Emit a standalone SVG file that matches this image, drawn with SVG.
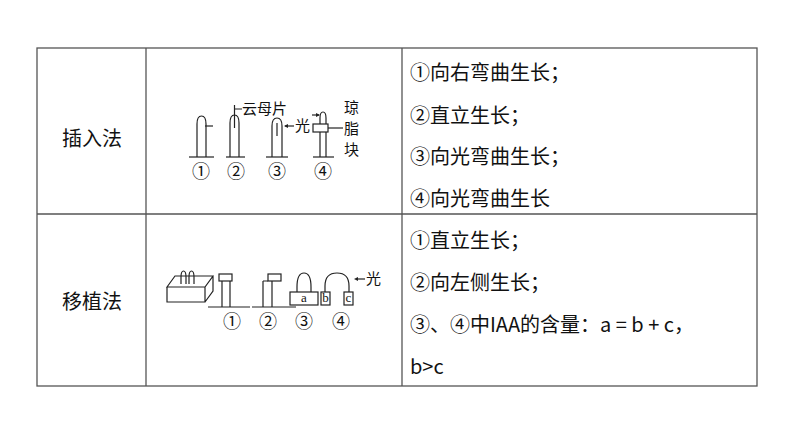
<svg xmlns="http://www.w3.org/2000/svg" width="794" height="447" viewBox="0 0 794 447">
<style>
.t{font-family:"Noto Sans CJK SC","Liberation Sans",sans-serif;font-size:20px;fill:#111}
.s{font-family:"Noto Sans CJK SC","Liberation Serif",serif;font-size:15px;fill:#111}
.m{font-family:"Liberation Serif",serif;font-size:13px;fill:#111;text-anchor:middle}
.n{font-family:"Noto Sans CJK SC",serif;font-size:18px;fill:#111;text-anchor:middle}
.l{fill:none;stroke:#222;stroke-width:1.2}
.g{fill:none;stroke:#555;stroke-width:1.3}
</style>
<rect width="794" height="447" fill="#fff"/>
<g id="table">
<rect x="37" y="48" width="720" height="338" class="g"/>
<line x1="146" y1="48" x2="146" y2="386" class="g"/>
<line x1="402" y1="48" x2="402" y2="386" class="g"/>
<line x1="37" y1="214" x2="757" y2="214" class="g"/>
</g>
<g id="row1">
<text class="t" x="92" y="146" text-anchor="middle">插入法</text>
<text class="t" x="410" y="80">①向右弯曲生长；</text>
<text class="t" x="410" y="123">②直立生长；</text>
<text class="t" x="410" y="164">③向光弯曲生长；</text>
<text class="t" x="410" y="206">④向光弯曲生长</text>
<g id="fig1">
<line x1="189" y1="157" x2="214" y2="157" class="l"/>
<path d="M197,157 V124 Q197,116 201.5,116 Q206,116 206,124 V157" class="l"/>
<path d="M205,126 H213" class="l"/>
<line x1="226" y1="157" x2="245" y2="157" class="l"/>
<path d="M230,157 V123 Q230,115 234.5,115 Q239,115 239,123 V157" class="l"/>
<path d="M234.5,105 V128 M234.5,109 H242" class="l"/>
<text class="s" x="242" y="114">云母片</text>
<line x1="266" y1="157" x2="288" y2="157" class="l"/>
<path d="M272,157 V126 Q272,118 277,118 Q282,118 282,126 V157" class="l"/>
<path d="M277,123 V136" class="l"/>
<path d="M294,126 H285" class="l"/><path d="M284,126 l4,-2 v4 z" fill="#222"/>
<text class="s" x="295" y="131">光</text>
<line x1="313" y1="157" x2="334" y2="157" class="l"/>
<path d="M320,157 V132 M326,157 V132 M320,124 V118 Q320,112 323,112 Q326,112 326,118 V124" class="l"/>
<rect x="313" y="124" width="15" height="8" class="l" fill="#fff"/>
<path d="M312,115 H319" class="l"/><path d="M320,115 l-4,-2 v4 z" fill="#222"/>
<path d="M328,128 H343" class="l"/>
<text class="s" x="344" y="113">琼</text>
<text class="s" x="344" y="134">脂</text>
<text class="s" x="344" y="155">块</text>
<text class="n" x="201" y="178">①</text>
<text class="n" x="236" y="178">②</text>
<text class="n" x="277" y="178">③</text>
<text class="n" x="323" y="178">④</text>
</g>
</g>
<g id="row2">
<text class="t" x="92" y="309" text-anchor="middle">移植法</text>
<text class="t" x="410" y="248">①直立生长；</text>
<text class="t" x="410" y="290">②向左侧生长；</text>
<text class="t" x="410" y="332">③、④中IAA的含量：a = b + c，</text>
<text class="t" x="410" y="374">b&gt;c</text>
<g id="fig2">
<path d="M167,287 L175,276 H213 L205,287 Z M167,287 V302 H205 V287 M205,302 L213,291 V276" class="l"/>
<path d="M181,284 V277 Q181,271 183.5,271 Q186,271 186,277 V284 M189,284 V277 Q189,271 191.5,271 Q194,271 194,277 V284" class="l"/>
<line x1="208" y1="307" x2="250" y2="307" class="l"/>
<path d="M222,307 V281 M230,307 V281" class="l"/>
<rect x="219" y="274" width="13" height="7" class="l"/>
<line x1="252" y1="307" x2="296" y2="307" class="l"/>
<path d="M263,307 V281 M272,307 V281 M263,281 H268" class="l"/>
<rect x="268" y="274" width="13" height="7" class="l"/>
<rect x="290" y="292" width="28" height="13" class="l"/>
<path d="M297,292 V287 Q297,273 304,273 Q311,273 311,287 V292" class="l"/>
<text class="m" x="304" y="302">a</text>
<rect x="321" y="292" width="9" height="13" class="l"/>
<rect x="344" y="292" width="9" height="13" class="l"/>
<path d="M325,292 V286 Q325,273 337,273 Q349,273 349,286 V292" class="l"/>
<text class="m" x="325.5" y="302">b</text>
<text class="m" x="348.5" y="302">c</text>
<path d="M365,279 H356" class="l"/><path d="M354,279 l4,-2 v4 z" fill="#222"/>
<text class="s" x="366" y="284">光</text>
<text class="n" x="232" y="328">①</text>
<text class="n" x="268" y="328">②</text>
<text class="n" x="304" y="328">③</text>
<text class="n" x="341" y="328">④</text>
</g>
</g>
</svg>
